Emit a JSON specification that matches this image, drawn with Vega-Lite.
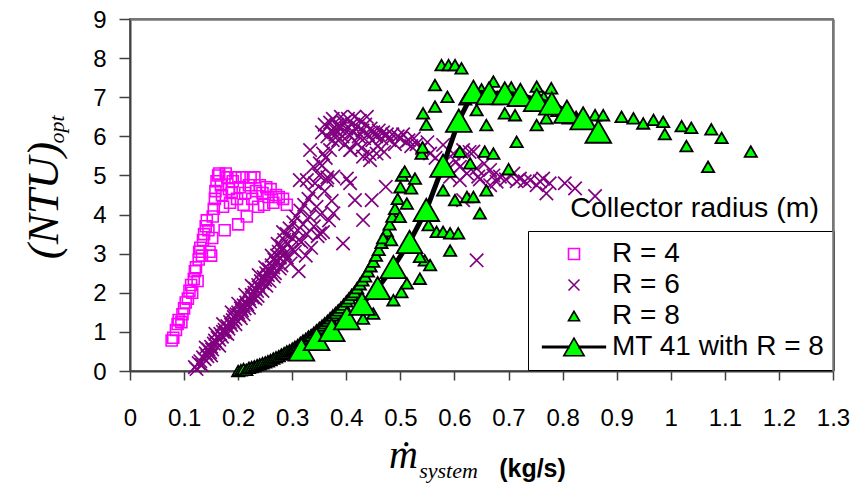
{
"$schema": "https://vega.github.io/schema/vega-lite/v6.json",
"width": 703, "height": 352,
"autosize": {"type": "none"},
"padding": {"left": 130, "top": 19, "right": 22, "bottom": 112},
"background": "white",
"config": {"font": "Liberation Sans", "view": {"stroke": "#777777", "strokeWidth": 2}, "axis": {"grid": false}},
"title": {"text": "Collector radius (m)", "anchor": "end", "frame": "group", "font": "Liberation Sans", "fontSize": 28.5, "fontWeight": "normal", "color": "black", "baseline": "alphabetic", "offset": 0, "dx": -14, "dy": 237},
"datasets": {
"r4": [
{"flow":0.077,"ntu":0.78,"series":"R = 4"},{"flow":0.080,"ntu":0.85,"series":"R = 4"},{"flow":0.085,"ntu":1.05,"series":"R = 4"},{"flow":0.088,"ntu":1.20,"series":"R = 4"},{"flow":0.090,"ntu":1.30,"series":"R = 4"},{"flow":0.095,"ntu":1.25,"series":"R = 4"},{"flow":0.097,"ntu":1.45,"series":"R = 4"},{"flow":0.100,"ntu":1.60,"series":"R = 4"},{"flow":0.103,"ntu":1.75,"series":"R = 4"},{"flow":0.107,"ntu":1.85,"series":"R = 4"},{"flow":0.110,"ntu":2.05,"series":"R = 4"},{"flow":0.113,"ntu":2.20,"series":"R = 4"},{"flow":0.115,"ntu":2.00,"series":"R = 4"},{"flow":0.118,"ntu":2.35,"series":"R = 4"},{"flow":0.120,"ntu":2.55,"series":"R = 4"},{"flow":0.122,"ntu":2.65,"series":"R = 4"},{"flow":0.125,"ntu":2.30,"series":"R = 4"},{"flow":0.127,"ntu":2.85,"series":"R = 4"},{"flow":0.128,"ntu":3.05,"series":"R = 4"},{"flow":0.130,"ntu":3.15,"series":"R = 4"},{"flow":0.133,"ntu":2.95,"series":"R = 4"},{"flow":0.135,"ntu":3.35,"series":"R = 4"},{"flow":0.137,"ntu":3.50,"series":"R = 4"},{"flow":0.140,"ntu":3.70,"series":"R = 4"},{"flow":0.142,"ntu":3.85,"series":"R = 4"},{"flow":0.145,"ntu":3.60,"series":"R = 4"},{"flow":0.147,"ntu":3.05,"series":"R = 4"},{"flow":0.150,"ntu":2.95,"series":"R = 4"},{"flow":0.152,"ntu":3.40,"series":"R = 4"},{"flow":0.153,"ntu":3.95,"series":"R = 4"},{"flow":0.155,"ntu":4.15,"series":"R = 4"},{"flow":0.157,"ntu":4.40,"series":"R = 4"},{"flow":0.158,"ntu":4.60,"series":"R = 4"},{"flow":0.160,"ntu":4.85,"series":"R = 4"},{"flow":0.163,"ntu":5.00,"series":"R = 4"},{"flow":0.165,"ntu":5.05,"series":"R = 4"},{"flow":0.168,"ntu":4.75,"series":"R = 4"},{"flow":0.170,"ntu":4.50,"series":"R = 4"},{"flow":0.172,"ntu":4.20,"series":"R = 4"},{"flow":0.175,"ntu":3.60,"series":"R = 4"},{"flow":0.177,"ntu":5.05,"series":"R = 4"},{"flow":0.180,"ntu":4.95,"series":"R = 4"},{"flow":0.183,"ntu":4.65,"series":"R = 4"},{"flow":0.185,"ntu":4.30,"series":"R = 4"},{"flow":0.188,"ntu":4.55,"series":"R = 4"},{"flow":0.190,"ntu":4.85,"series":"R = 4"},{"flow":0.195,"ntu":4.95,"series":"R = 4"},{"flow":0.198,"ntu":4.40,"series":"R = 4"},{"flow":0.200,"ntu":3.75,"series":"R = 4"},{"flow":0.203,"ntu":4.70,"series":"R = 4"},{"flow":0.207,"ntu":4.95,"series":"R = 4"},{"flow":0.210,"ntu":4.25,"series":"R = 4"},{"flow":0.213,"ntu":4.55,"series":"R = 4"},{"flow":0.216,"ntu":3.95,"series":"R = 4"},{"flow":0.220,"ntu":4.75,"series":"R = 4"},{"flow":0.223,"ntu":4.95,"series":"R = 4"},{"flow":0.226,"ntu":4.40,"series":"R = 4"},{"flow":0.230,"ntu":4.95,"series":"R = 4"},{"flow":0.233,"ntu":4.60,"series":"R = 4"},{"flow":0.237,"ntu":4.20,"series":"R = 4"},{"flow":0.240,"ntu":4.75,"series":"R = 4"},{"flow":0.245,"ntu":4.55,"series":"R = 4"},{"flow":0.248,"ntu":4.25,"series":"R = 4"},{"flow":0.252,"ntu":4.70,"series":"R = 4"},{"flow":0.256,"ntu":4.45,"series":"R = 4"},{"flow":0.260,"ntu":4.65,"series":"R = 4"},{"flow":0.265,"ntu":4.30,"series":"R = 4"},{"flow":0.270,"ntu":4.50,"series":"R = 4"},{"flow":0.275,"ntu":4.45,"series":"R = 4"},{"flow":0.283,"ntu":4.40,"series":"R = 4"},{"flow":0.290,"ntu":4.25,"series":"R = 4"}
],
"r6": [
{"flow":0.120,"ntu":0.10,"series":"R = 6"},{"flow":0.123,"ntu":0.05,"series":"R = 6"},{"flow":0.127,"ntu":0.20,"series":"R = 6"},{"flow":0.130,"ntu":0.25,"series":"R = 6"},{"flow":0.133,"ntu":0.15,"series":"R = 6"},{"flow":0.135,"ntu":0.35,"series":"R = 6"},{"flow":0.138,"ntu":0.30,"series":"R = 6"},{"flow":0.140,"ntu":0.45,"series":"R = 6"},{"flow":0.143,"ntu":0.38,"series":"R = 6"},{"flow":0.145,"ntu":0.55,"series":"R = 6"},{"flow":0.148,"ntu":0.48,"series":"R = 6"},{"flow":0.150,"ntu":0.62,"series":"R = 6"},{"flow":0.152,"ntu":0.55,"series":"R = 6"},{"flow":0.155,"ntu":0.70,"series":"R = 6"},{"flow":0.157,"ntu":0.78,"series":"R = 6"},{"flow":0.160,"ntu":0.72,"series":"R = 6"},{"flow":0.162,"ntu":0.85,"series":"R = 6"},{"flow":0.165,"ntu":0.80,"series":"R = 6"},{"flow":0.167,"ntu":0.95,"series":"R = 6"},{"flow":0.170,"ntu":0.88,"series":"R = 6"},{"flow":0.172,"ntu":1.00,"series":"R = 6"},{"flow":0.175,"ntu":1.05,"series":"R = 6"},{"flow":0.177,"ntu":0.98,"series":"R = 6"},{"flow":0.180,"ntu":1.15,"series":"R = 6"},{"flow":0.182,"ntu":1.08,"series":"R = 6"},{"flow":0.185,"ntu":1.25,"series":"R = 6"},{"flow":0.187,"ntu":1.18,"series":"R = 6"},{"flow":0.190,"ntu":1.30,"series":"R = 6"},{"flow":0.192,"ntu":1.38,"series":"R = 6"},{"flow":0.195,"ntu":1.33,"series":"R = 6"},{"flow":0.197,"ntu":1.45,"series":"R = 6"},{"flow":0.200,"ntu":1.50,"series":"R = 6"},{"flow":0.202,"ntu":1.42,"series":"R = 6"},{"flow":0.205,"ntu":1.60,"series":"R = 6"},{"flow":0.207,"ntu":1.55,"series":"R = 6"},{"flow":0.210,"ntu":1.68,"series":"R = 6"},{"flow":0.212,"ntu":1.60,"series":"R = 6"},{"flow":0.215,"ntu":1.75,"series":"R = 6"},{"flow":0.217,"ntu":1.70,"series":"R = 6"},{"flow":0.220,"ntu":1.85,"series":"R = 6"},{"flow":0.222,"ntu":1.78,"series":"R = 6"},{"flow":0.225,"ntu":1.95,"series":"R = 6"},{"flow":0.227,"ntu":1.88,"series":"R = 6"},{"flow":0.230,"ntu":2.00,"series":"R = 6"},{"flow":0.232,"ntu":2.10,"series":"R = 6"},{"flow":0.235,"ntu":2.05,"series":"R = 6"},{"flow":0.237,"ntu":2.20,"series":"R = 6"},{"flow":0.240,"ntu":2.12,"series":"R = 6"},{"flow":0.242,"ntu":2.30,"series":"R = 6"},{"flow":0.245,"ntu":2.25,"series":"R = 6"},{"flow":0.247,"ntu":2.40,"series":"R = 6"},{"flow":0.250,"ntu":2.33,"series":"R = 6"},{"flow":0.252,"ntu":2.50,"series":"R = 6"},{"flow":0.255,"ntu":2.45,"series":"R = 6"},{"flow":0.257,"ntu":2.60,"series":"R = 6"},{"flow":0.260,"ntu":2.52,"series":"R = 6"},{"flow":0.262,"ntu":2.70,"series":"R = 6"},{"flow":0.265,"ntu":2.65,"series":"R = 6"},{"flow":0.267,"ntu":2.85,"series":"R = 6"},{"flow":0.270,"ntu":2.78,"series":"R = 6"},{"flow":0.272,"ntu":2.95,"series":"R = 6"},{"flow":0.275,"ntu":3.05,"series":"R = 6"},{"flow":0.277,"ntu":2.90,"series":"R = 6"},{"flow":0.280,"ntu":3.20,"series":"R = 6"},{"flow":0.282,"ntu":3.10,"series":"R = 6"},{"flow":0.285,"ntu":3.35,"series":"R = 6"},{"flow":0.287,"ntu":3.00,"series":"R = 6"},{"flow":0.290,"ntu":3.50,"series":"R = 6"},{"flow":0.292,"ntu":3.25,"series":"R = 6"},{"flow":0.295,"ntu":3.65,"series":"R = 6"},{"flow":0.297,"ntu":2.75,"series":"R = 6"},{"flow":0.300,"ntu":3.40,"series":"R = 6"},{"flow":0.302,"ntu":3.80,"series":"R = 6"},{"flow":0.305,"ntu":3.05,"series":"R = 6"},{"flow":0.307,"ntu":3.95,"series":"R = 6"},{"flow":0.310,"ntu":3.60,"series":"R = 6"},{"flow":0.312,"ntu":2.55,"series":"R = 6"},{"flow":0.315,"ntu":4.10,"series":"R = 6"},{"flow":0.317,"ntu":3.30,"series":"R = 6"},{"flow":0.320,"ntu":3.75,"series":"R = 6"},{"flow":0.322,"ntu":4.25,"series":"R = 6"},{"flow":0.325,"ntu":2.95,"series":"R = 6"},{"flow":0.327,"ntu":3.50,"series":"R = 6"},{"flow":0.330,"ntu":4.40,"series":"R = 6"},{"flow":0.332,"ntu":3.95,"series":"R = 6"},{"flow":0.335,"ntu":3.15,"series":"R = 6"},{"flow":0.337,"ntu":4.55,"series":"R = 6"},{"flow":0.340,"ntu":3.70,"series":"R = 6"},{"flow":0.342,"ntu":4.80,"series":"R = 6"},{"flow":0.345,"ntu":4.20,"series":"R = 6"},{"flow":0.347,"ntu":3.45,"series":"R = 6"},{"flow":0.350,"ntu":5.00,"series":"R = 6"},{"flow":0.352,"ntu":4.00,"series":"R = 6"},{"flow":0.355,"ntu":5.25,"series":"R = 6"},{"flow":0.357,"ntu":3.55,"series":"R = 6"},{"flow":0.360,"ntu":4.60,"series":"R = 6"},{"flow":0.362,"ntu":5.45,"series":"R = 6"},{"flow":0.365,"ntu":4.95,"series":"R = 6"},{"flow":0.368,"ntu":3.85,"series":"R = 6"},{"flow":0.370,"ntu":5.65,"series":"R = 6"},{"flow":0.373,"ntu":4.35,"series":"R = 6"},{"flow":0.375,"ntu":5.90,"series":"R = 6"},{"flow":0.380,"ntu":6.15,"series":"R = 6"},{"flow":0.385,"ntu":6.25,"series":"R = 6"},
{"flow":0.232,"ntu":1.85,"series":"R = 6"},{"flow":0.245,"ntu":2.05,"series":"R = 6"},{"flow":0.258,"ntu":2.30,"series":"R = 6"},{"flow":0.268,"ntu":2.50,"series":"R = 6"},{"flow":0.280,"ntu":2.70,"series":"R = 6"},{"flow":0.290,"ntu":2.90,"series":"R = 6"},{"flow":0.210,"ntu":1.45,"series":"R = 6"},{"flow":0.195,"ntu":1.20,"series":"R = 6"},{"flow":0.180,"ntu":0.95,"series":"R = 6"},{"flow":0.165,"ntu":0.65,"series":"R = 6"},{"flow":0.150,"ntu":0.40,"series":"R = 6"},
{"flow":0.140,"ntu":0.60,"series":"R = 6"},{"flow":0.158,"ntu":0.95,"series":"R = 6"},{"flow":0.172,"ntu":1.20,"series":"R = 6"},{"flow":0.188,"ntu":1.50,"series":"R = 6"},{"flow":0.200,"ntu":1.72,"series":"R = 6"},{"flow":0.213,"ntu":1.95,"series":"R = 6"},{"flow":0.225,"ntu":2.18,"series":"R = 6"},{"flow":0.238,"ntu":2.45,"series":"R = 6"},{"flow":0.250,"ntu":2.65,"series":"R = 6"},{"flow":0.262,"ntu":2.95,"series":"R = 6"},{"flow":0.273,"ntu":3.25,"series":"R = 6"},{"flow":0.283,"ntu":3.55,"series":"R = 6"},{"flow":0.205,"ntu":1.35,"series":"R = 6"},{"flow":0.220,"ntu":1.62,"series":"R = 6"},{"flow":0.236,"ntu":1.92,"series":"R = 6"},{"flow":0.252,"ntu":2.18,"series":"R = 6"},{"flow":0.266,"ntu":2.42,"series":"R = 6"},{"flow":0.277,"ntu":2.62,"series":"R = 6"},{"flow":0.300,"ntu":3.10,"series":"R = 6"},{"flow":0.312,"ntu":3.35,"series":"R = 6"},
{"flow":0.314,"ntu":4.88,"series":"R = 6"},{"flow":0.327,"ntu":4.88,"series":"R = 6"},{"flow":0.333,"ntu":5.65,"series":"R = 6"},{"flow":0.339,"ntu":5.22,"series":"R = 6"},{"flow":0.351,"ntu":5.31,"series":"R = 6"},{"flow":0.357,"ntu":5.56,"series":"R = 6"},{"flow":0.364,"ntu":4.88,"series":"R = 6"},{"flow":0.376,"ntu":4.97,"series":"R = 6"},{"flow":0.376,"ntu":4.03,"series":"R = 6"},{"flow":0.351,"ntu":3.52,"series":"R = 6"},{"flow":0.394,"ntu":3.26,"series":"R = 6"},{"flow":0.401,"ntu":4.92,"series":"R = 6"},{"flow":0.407,"ntu":5.65,"series":"R = 6"},{"flow":0.407,"ntu":4.80,"series":"R = 6"},{"flow":0.416,"ntu":4.37,"series":"R = 6"},{"flow":0.431,"ntu":5.48,"series":"R = 6"},{"flow":0.431,"ntu":3.86,"series":"R = 6"},{"flow":0.444,"ntu":5.39,"series":"R = 6"},{"flow":0.447,"ntu":4.37,"series":"R = 6"},{"flow":0.456,"ntu":5.56,"series":"R = 6"},{"flow":0.473,"ntu":4.71,"series":"R = 6"},
{"flow":0.355,"ntu":6.10,"series":"R = 6"},{"flow":0.360,"ntu":6.30,"series":"R = 6"},{"flow":0.365,"ntu":6.00,"series":"R = 6"},{"flow":0.370,"ntu":6.35,"series":"R = 6"},{"flow":0.372,"ntu":6.15,"series":"R = 6"},{"flow":0.375,"ntu":6.45,"series":"R = 6"},{"flow":0.380,"ntu":6.05,"series":"R = 6"},{"flow":0.383,"ntu":6.30,"series":"R = 6"},{"flow":0.385,"ntu":5.90,"series":"R = 6"},{"flow":0.388,"ntu":6.20,"series":"R = 6"},{"flow":0.390,"ntu":6.50,"series":"R = 6"},{"flow":0.393,"ntu":6.00,"series":"R = 6"},{"flow":0.395,"ntu":6.35,"series":"R = 6"},{"flow":0.398,"ntu":5.80,"series":"R = 6"},{"flow":0.400,"ntu":6.20,"series":"R = 6"},{"flow":0.403,"ntu":6.45,"series":"R = 6"},{"flow":0.405,"ntu":6.05,"series":"R = 6"},{"flow":0.408,"ntu":5.65,"series":"R = 6"},{"flow":0.410,"ntu":6.30,"series":"R = 6"},{"flow":0.413,"ntu":6.10,"series":"R = 6"},{"flow":0.415,"ntu":6.50,"series":"R = 6"},{"flow":0.418,"ntu":5.85,"series":"R = 6"},{"flow":0.420,"ntu":6.25,"series":"R = 6"},{"flow":0.423,"ntu":6.00,"series":"R = 6"},{"flow":0.425,"ntu":6.40,"series":"R = 6"},{"flow":0.428,"ntu":5.70,"series":"R = 6"},{"flow":0.430,"ntu":6.15,"series":"R = 6"},{"flow":0.433,"ntu":5.95,"series":"R = 6"},{"flow":0.435,"ntu":6.30,"series":"R = 6"},{"flow":0.438,"ntu":6.50,"series":"R = 6"},{"flow":0.440,"ntu":6.05,"series":"R = 6"},{"flow":0.443,"ntu":5.55,"series":"R = 6"},{"flow":0.445,"ntu":6.20,"series":"R = 6"},{"flow":0.448,"ntu":5.90,"series":"R = 6"},{"flow":0.450,"ntu":6.10,"series":"R = 6"},{"flow":0.455,"ntu":6.00,"series":"R = 6"},{"flow":0.458,"ntu":5.75,"series":"R = 6"},{"flow":0.460,"ntu":6.15,"series":"R = 6"},{"flow":0.465,"ntu":5.95,"series":"R = 6"},{"flow":0.468,"ntu":6.10,"series":"R = 6"},{"flow":0.470,"ntu":5.60,"series":"R = 6"},{"flow":0.475,"ntu":6.05,"series":"R = 6"},{"flow":0.480,"ntu":5.90,"series":"R = 6"},{"flow":0.485,"ntu":6.05,"series":"R = 6"},{"flow":0.490,"ntu":5.80,"series":"R = 6"},{"flow":0.495,"ntu":6.00,"series":"R = 6"},{"flow":0.500,"ntu":5.95,"series":"R = 6"},{"flow":0.505,"ntu":6.05,"series":"R = 6"},{"flow":0.510,"ntu":5.85,"series":"R = 6"},{"flow":0.515,"ntu":5.90,"series":"R = 6"},{"flow":0.520,"ntu":5.75,"series":"R = 6"},{"flow":0.525,"ntu":5.95,"series":"R = 6"},{"flow":0.530,"ntu":5.80,"series":"R = 6"},{"flow":0.540,"ntu":5.70,"series":"R = 6"},{"flow":0.550,"ntu":5.85,"series":"R = 6"},
{"flow":0.555,"ntu":5.56,"series":"R = 6"},{"flow":0.565,"ntu":5.45,"series":"R = 6"},{"flow":0.579,"ntu":5.78,"series":"R = 6"},{"flow":0.586,"ntu":5.22,"series":"R = 6"},{"flow":0.592,"ntu":4.97,"series":"R = 6"},{"flow":0.598,"ntu":5.56,"series":"R = 6"},{"flow":0.603,"ntu":5.35,"series":"R = 6"},{"flow":0.610,"ntu":5.22,"series":"R = 6"},{"flow":0.610,"ntu":4.88,"series":"R = 6"},{"flow":0.616,"ntu":5.65,"series":"R = 6"},{"flow":0.616,"ntu":4.37,"series":"R = 6"},{"flow":0.623,"ntu":5.05,"series":"R = 6"},{"flow":0.628,"ntu":5.60,"series":"R = 6"},{"flow":0.635,"ntu":5.61,"series":"R = 6"},{"flow":0.641,"ntu":5.18,"series":"R = 6"},{"flow":0.644,"ntu":4.97,"series":"R = 6"},{"flow":0.647,"ntu":4.90,"series":"R = 6"},{"flow":0.655,"ntu":5.30,"series":"R = 6"},{"flow":0.666,"ntu":5.14,"series":"R = 6"},{"flow":0.666,"ntu":4.75,"series":"R = 6"},{"flow":0.672,"ntu":5.00,"series":"R = 6"},{"flow":0.678,"ntu":4.84,"series":"R = 6"},{"flow":0.684,"ntu":4.97,"series":"R = 6"},{"flow":0.695,"ntu":4.90,"series":"R = 6"},{"flow":0.709,"ntu":5.05,"series":"R = 6"},{"flow":0.715,"ntu":4.85,"series":"R = 6"},{"flow":0.721,"ntu":4.92,"series":"R = 6"},{"flow":0.730,"ntu":4.85,"series":"R = 6"},{"flow":0.740,"ntu":4.88,"series":"R = 6"},{"flow":0.752,"ntu":4.75,"series":"R = 6"},{"flow":0.758,"ntu":4.85,"series":"R = 6"},{"flow":0.764,"ntu":4.92,"series":"R = 6"},{"flow":0.770,"ntu":4.54,"series":"R = 6"},{"flow":0.776,"ntu":4.80,"series":"R = 6"},{"flow":0.804,"ntu":4.80,"series":"R = 6"},{"flow":0.823,"ntu":4.67,"series":"R = 6"},{"flow":0.860,"ntu":4.47,"series":"R = 6"},{"flow":0.641,"ntu":2.83,"series":"R = 6"}
],
"r8": [
{"flow":0.200,"ntu":0.00,"series":"R = 8"},{"flow":0.205,"ntu":0.02,"series":"R = 8"},{"flow":0.210,"ntu":0.05,"series":"R = 8"},{"flow":0.215,"ntu":0.03,"series":"R = 8"},{"flow":0.220,"ntu":0.08,"series":"R = 8"},{"flow":0.225,"ntu":0.10,"series":"R = 8"},{"flow":0.230,"ntu":0.12,"series":"R = 8"},{"flow":0.235,"ntu":0.15,"series":"R = 8"},{"flow":0.240,"ntu":0.17,"series":"R = 8"},{"flow":0.245,"ntu":0.20,"series":"R = 8"},{"flow":0.250,"ntu":0.22,"series":"R = 8"},{"flow":0.255,"ntu":0.25,"series":"R = 8"},{"flow":0.260,"ntu":0.28,"series":"R = 8"},{"flow":0.265,"ntu":0.32,"series":"R = 8"},{"flow":0.270,"ntu":0.35,"series":"R = 8"},{"flow":0.275,"ntu":0.38,"series":"R = 8"},{"flow":0.280,"ntu":0.42,"series":"R = 8"},{"flow":0.285,"ntu":0.46,"series":"R = 8"},{"flow":0.290,"ntu":0.50,"series":"R = 8"},{"flow":0.295,"ntu":0.53,"series":"R = 8"},{"flow":0.300,"ntu":0.57,"series":"R = 8"},{"flow":0.305,"ntu":0.62,"series":"R = 8"},{"flow":0.310,"ntu":0.66,"series":"R = 8"},{"flow":0.315,"ntu":0.72,"series":"R = 8"},{"flow":0.320,"ntu":0.78,"series":"R = 8"},{"flow":0.325,"ntu":0.82,"series":"R = 8"},{"flow":0.330,"ntu":0.88,"series":"R = 8"},{"flow":0.335,"ntu":0.92,"series":"R = 8"},{"flow":0.340,"ntu":0.98,"series":"R = 8"},{"flow":0.345,"ntu":1.04,"series":"R = 8"},{"flow":0.350,"ntu":1.10,"series":"R = 8"},{"flow":0.355,"ntu":1.16,"series":"R = 8"},{"flow":0.360,"ntu":1.22,"series":"R = 8"},{"flow":0.365,"ntu":1.28,"series":"R = 8"},{"flow":0.370,"ntu":1.35,"series":"R = 8"},{"flow":0.375,"ntu":1.42,"series":"R = 8"},{"flow":0.380,"ntu":1.48,"series":"R = 8"},{"flow":0.385,"ntu":1.55,"series":"R = 8"},{"flow":0.390,"ntu":1.62,"series":"R = 8"},{"flow":0.395,"ntu":1.70,"series":"R = 8"},{"flow":0.400,"ntu":1.78,"series":"R = 8"},{"flow":0.405,"ntu":1.86,"series":"R = 8"},{"flow":0.410,"ntu":1.95,"series":"R = 8"},{"flow":0.415,"ntu":2.02,"series":"R = 8"},{"flow":0.420,"ntu":2.12,"series":"R = 8"},{"flow":0.425,"ntu":2.22,"series":"R = 8"},{"flow":0.430,"ntu":2.32,"series":"R = 8"},{"flow":0.435,"ntu":2.42,"series":"R = 8"},{"flow":0.440,"ntu":2.55,"series":"R = 8"},{"flow":0.445,"ntu":2.68,"series":"R = 8"},{"flow":0.450,"ntu":2.80,"series":"R = 8"},{"flow":0.455,"ntu":2.95,"series":"R = 8"},{"flow":0.460,"ntu":3.10,"series":"R = 8"},{"flow":0.465,"ntu":3.28,"series":"R = 8"},{"flow":0.470,"ntu":3.42,"series":"R = 8"},{"flow":0.475,"ntu":3.58,"series":"R = 8"},{"flow":0.480,"ntu":3.75,"series":"R = 8"},{"flow":0.485,"ntu":3.95,"series":"R = 8"},{"flow":0.490,"ntu":4.15,"series":"R = 8"},{"flow":0.495,"ntu":4.40,"series":"R = 8"},{"flow":0.500,"ntu":4.70,"series":"R = 8"},{"flow":0.503,"ntu":5.00,"series":"R = 8"},{"flow":0.508,"ntu":5.10,"series":"R = 8"},
{"flow":0.431,"ntu":1.34,"series":"R = 8"},{"flow":0.450,"ntu":1.47,"series":"R = 8"},{"flow":0.487,"ntu":1.81,"series":"R = 8"},{"flow":0.502,"ntu":2.02,"series":"R = 8"},{"flow":0.512,"ntu":2.24,"series":"R = 8"},{"flow":0.536,"ntu":2.36,"series":"R = 8"},{"flow":0.545,"ntu":2.83,"series":"R = 8"},{"flow":0.555,"ntu":2.71,"series":"R = 8"},{"flow":0.536,"ntu":2.92,"series":"R = 8"},{"flow":0.592,"ntu":3.08,"series":"R = 8"},{"flow":0.468,"ntu":3.40,"series":"R = 8"},{"flow":0.483,"ntu":3.35,"series":"R = 8"},
{"flow":0.499,"ntu":3.94,"series":"R = 8"},{"flow":0.512,"ntu":4.28,"series":"R = 8"},{"flow":0.520,"ntu":4.67,"series":"R = 8"},{"flow":0.527,"ntu":4.92,"series":"R = 8"},{"flow":0.539,"ntu":5.56,"series":"R = 8"},{"flow":0.541,"ntu":5.72,"series":"R = 8"},{"flow":0.542,"ntu":6.59,"series":"R = 8"},{"flow":0.548,"ntu":6.30,"series":"R = 8"},{"flow":0.564,"ntu":6.76,"series":"R = 8"},{"flow":0.564,"ntu":7.31,"series":"R = 8"},{"flow":0.587,"ntu":7.01,"series":"R = 8"},{"flow":0.576,"ntu":7.82,"series":"R = 8"},{"flow":0.589,"ntu":7.82,"series":"R = 8"},{"flow":0.601,"ntu":7.82,"series":"R = 8"},{"flow":0.613,"ntu":7.74,"series":"R = 8"},
{"flow":0.552,"ntu":3.73,"series":"R = 8"},{"flow":0.567,"ntu":3.56,"series":"R = 8"},{"flow":0.579,"ntu":3.56,"series":"R = 8"},{"flow":0.592,"ntu":3.52,"series":"R = 8"},{"flow":0.607,"ntu":3.52,"series":"R = 8"},{"flow":0.555,"ntu":4.07,"series":"R = 8"},{"flow":0.579,"ntu":4.62,"series":"R = 8"},{"flow":0.601,"ntu":4.37,"series":"R = 8"},{"flow":0.623,"ntu":4.45,"series":"R = 8"},{"flow":0.635,"ntu":4.45,"series":"R = 8"},{"flow":0.659,"ntu":4.62,"series":"R = 8"},{"flow":0.647,"ntu":4.03,"series":"R = 8"},{"flow":0.610,"ntu":5.61,"series":"R = 8"},{"flow":0.629,"ntu":5.31,"series":"R = 8"},{"flow":0.656,"ntu":5.61,"series":"R = 8"},{"flow":0.672,"ntu":5.56,"series":"R = 8"},{"flow":0.700,"ntu":5.16,"series":"R = 8"},{"flow":0.715,"ntu":5.86,"series":"R = 8"},{"flow":0.659,"ntu":6.29,"series":"R = 8"},{"flow":0.641,"ntu":6.67,"series":"R = 8"},{"flow":0.672,"ntu":7.40,"series":"R = 8"},{"flow":0.693,"ntu":6.59,"series":"R = 8"},{"flow":0.712,"ntu":6.54,"series":"R = 8"},{"flow":0.752,"ntu":7.27,"series":"R = 8"},{"flow":0.752,"ntu":6.29,"series":"R = 8"},{"flow":0.770,"ntu":6.46,"series":"R = 8"},{"flow":0.779,"ntu":7.23,"series":"R = 8"},{"flow":0.811,"ntu":6.46,"series":"R = 8"},{"flow":0.841,"ntu":6.46,"series":"R = 8"},{"flow":0.860,"ntu":6.54,"series":"R = 8"},{"flow":0.875,"ntu":6.54,"series":"R = 8"},{"flow":0.909,"ntu":6.50,"series":"R = 8"},{"flow":0.931,"ntu":6.46,"series":"R = 8"},{"flow":0.949,"ntu":6.33,"series":"R = 8"},{"flow":0.968,"ntu":6.42,"series":"R = 8"},{"flow":0.986,"ntu":6.37,"series":"R = 8"},{"flow":0.989,"ntu":6.06,"series":"R = 8"},{"flow":1.020,"ntu":6.26,"series":"R = 8"},{"flow":1.038,"ntu":6.22,"series":"R = 8"},{"flow":1.029,"ntu":5.75,"series":"R = 8"},{"flow":1.075,"ntu":6.18,"series":"R = 8"},{"flow":1.094,"ntu":5.96,"series":"R = 8"},{"flow":1.069,"ntu":5.22,"series":"R = 8"},{"flow":1.148,"ntu":5.61,"series":"R = 8"},
{"flow":0.620,"ntu":6.95,"series":"R = 8"},{"flow":0.650,"ntu":7.20,"series":"R = 8"},{"flow":0.680,"ntu":7.00,"series":"R = 8"},{"flow":0.705,"ntu":7.25,"series":"R = 8"},{"flow":0.730,"ntu":6.95,"series":"R = 8"},{"flow":0.745,"ntu":6.80,"series":"R = 8"},{"flow":0.765,"ntu":7.00,"series":"R = 8"},{"flow":0.790,"ntu":6.65,"series":"R = 8"},{"flow":0.800,"ntu":6.55,"series":"R = 8"},{"flow":0.825,"ntu":6.50,"series":"R = 8"},{"flow":0.845,"ntu":6.35,"series":"R = 8"}
],
"mt": [
{"flow":0.317,"ntu":0.55,"series":"MT 41 with R = 8"},{"flow":0.345,"ntu":0.82,"series":"MT 41 with R = 8"},{"flow":0.373,"ntu":1.05,"series":"MT 41 with R = 8"},{"flow":0.401,"ntu":1.35,"series":"MT 41 with R = 8"},{"flow":0.429,"ntu":1.72,"series":"MT 41 with R = 8"},{"flow":0.458,"ntu":2.12,"series":"MT 41 with R = 8"},{"flow":0.487,"ntu":2.66,"series":"MT 41 with R = 8"},{"flow":0.517,"ntu":3.30,"series":"MT 41 with R = 8"},{"flow":0.548,"ntu":4.12,"series":"MT 41 with R = 8"},{"flow":0.579,"ntu":5.25,"series":"MT 41 with R = 8"},{"flow":0.608,"ntu":6.40,"series":"MT 41 with R = 8"},{"flow":0.635,"ntu":7.14,"series":"MT 41 with R = 8"},{"flow":0.664,"ntu":7.10,"series":"MT 41 with R = 8"},{"flow":0.693,"ntu":7.10,"series":"MT 41 with R = 8"},{"flow":0.722,"ntu":7.06,"series":"MT 41 with R = 8"},{"flow":0.752,"ntu":6.93,"series":"MT 41 with R = 8"},{"flow":0.780,"ntu":6.84,"series":"MT 41 with R = 8"},{"flow":0.808,"ntu":6.63,"series":"MT 41 with R = 8"},{"flow":0.838,"ntu":6.46,"series":"MT 41 with R = 8"},{"flow":0.866,"ntu":6.12,"series":"MT 41 with R = 8"}
]
},
"resolve": {"axis": {"x": "independent", "y": "independent"}},
"layer": [
{
"data": {"name": "r4"},
"mark": {"type": "point", "filled": true, "opacity": 1, "size": 121, "strokeWidth": 1.6},
"encoding": {
"x": {"field": "flow", "type": "quantitative", "scale": {"domain": [0, 1.3], "nice": false, "zero": false},
"axis": {"orient": "bottom", "values": [0,0.1,0.2,0.3,0.4,0.5,0.6,0.7,0.8,0.9,1,1.1,1.2,1.3], "format": "~g", "labelFont": "Liberation Sans", "labelFontSize": 24, "labelColor": "black", "labelPadding": 26, "labelFlush": false, "labelOverlap": false, "tickSize": 9, "tickColor": "#404040", "tickWidth": 1.5, "domainColor": "#404040", "domainWidth": 2, "grid": false,
"title": "ṁ", "titleFont": "Liberation Serif", "titleFontStyle": "italic", "titleFontWeight": "normal", "titleFontSize": 40, "titleColor": "black", "titleAlign": "center", "titleBaseline": "alphabetic", "titleX": 273, "titleY": 96}},
"y": {"field": "ntu", "type": "quantitative", "scale": {"domain": [0, 9], "nice": false, "zero": false},
"axis": {"orient": "left", "values": [0,1,2,3,4,5,6,7,8,9], "format": "d", "labelFont": "Liberation Sans", "labelFontSize": 24, "labelColor": "black", "labelPadding": 13, "labelOffset": 1, "labelFlush": false, "labelOverlap": false, "tickSize": 11, "tickColor": "#404040", "tickWidth": 1.5, "domainColor": "#404040", "domainWidth": 2, "grid": false,
"title": "(NTU)", "titleFont": "Liberation Serif", "titleFontStyle": "italic", "titleFontWeight": "normal", "titleFontSize": 45, "titleColor": "black", "titleAngle": 270, "titleAlign": "center", "titleBaseline": "alphabetic", "titleX": -73, "titleY": 181}},
"shape": {"field": "series", "type": "nominal",
"scale": {"domain": ["R = 4", "R = 6", "R = 8", "MT 41 with R = 8"], "range": ["square", "M-1,-1L1,1M-1,1L1,-1", "triangle-up", "M-5.7,-0.14L-0.92,-0.14L-0.92,0.14L-5.7,0.14Z M-5.7,-0.14L-5.7,0.14L-0.92,0.14L-0.92,-0.14Z M0.92,-0.14L5.7,-0.14L5.7,0.14L0.92,0.14Z M0.92,-0.14L0.92,0.14L5.7,0.14L5.7,-0.14Z M0,-1.6L1.85,1.6L-1.85,1.6Z"]},
"legend": {"orient": "none", "legendX": 398, "legendY": 212, "direction": "vertical", "title": null, "fillColor": "white", "strokeColor": "black", "padding": 9, "rowPadding": 3, "symbolSize": 121, "symbolStrokeWidth": 1.6, "symbolOffset": 23, "labelOffset": 24, "labelFont": "Liberation Sans", "labelFontSize": 28, "labelColor": "black", "labelLimit": 400}},
"fill": {"field": "series", "type": "nominal", "scale": {"domain": ["R = 4", "R = 6", "R = 8", "MT 41 with R = 8"], "range": ["transparent", "transparent", "#00FF00", "#00FF00"]}},
"stroke": {"field": "series", "type": "nominal", "scale": {"domain": ["R = 4", "R = 6", "R = 8", "MT 41 with R = 8"], "range": ["#FF00FF", "#800080", "black", "black"]}}
}
},
{
"data": {"name": "r6"},
"mark": {"type": "point", "filled": true, "opacity": 1, "size": 180, "strokeWidth": 1.7},
"encoding": {
"x": {"field": "flow", "type": "quantitative", "scale": {"domain": [0, 1.3], "nice": false, "zero": false},
"axis": {"orient": "bottom", "labels": false, "ticks": false, "domain": false, "grid": false, "title": "system", "titleFont": "Liberation Serif", "titleFontStyle": "italic", "titleFontWeight": "normal", "titleFontSize": 22, "titleColor": "black", "titleAlign": "center", "titleBaseline": "alphabetic", "titleX": 318, "titleY": 106}},
"y": {"field": "ntu", "type": "quantitative", "scale": {"domain": [0, 9], "nice": false, "zero": false},
"axis": {"orient": "left", "labels": false, "ticks": false, "domain": false, "grid": false, "title": "opt", "titleFont": "Liberation Serif", "titleFontStyle": "italic", "titleFontWeight": "normal", "titleFontSize": 22, "titleColor": "black", "titleAngle": 270, "titleAlign": "center", "titleBaseline": "alphabetic", "titleX": -67, "titleY": 110}},
"shape": {"field": "series", "type": "nominal"},
"fill": {"field": "series", "type": "nominal"},
"stroke": {"field": "series", "type": "nominal"}
}
},
{
"data": {"name": "r8"},
"mark": {"type": "point", "filled": true, "opacity": 1, "size": 150, "strokeWidth": 1.8},
"encoding": {
"x": {"field": "flow", "type": "quantitative", "scale": {"domain": [0, 1.3], "nice": false, "zero": false},
"axis": {"orient": "bottom", "labels": false, "ticks": false, "domain": false, "grid": false, "title": "(kg/s)", "titleFont": "Liberation Sans", "titleFontWeight": "bold", "titleFontSize": 25, "titleColor": "black", "titleAlign": "center", "titleBaseline": "alphabetic", "titleX": 402, "titleY": 105}},
"y": {"field": "ntu", "type": "quantitative", "scale": {"domain": [0, 9], "nice": false, "zero": false}, "axis": null},
"shape": {"field": "series", "type": "nominal"},
"fill": {"field": "series", "type": "nominal"},
"stroke": {"field": "series", "type": "nominal"}
}
},
{
"data": {"name": "mt"},
"mark": {"type": "line", "color": "black", "strokeWidth": 5},
"encoding": {
"x": {"field": "flow", "type": "quantitative", "scale": {"domain": [0, 1.3], "nice": false, "zero": false}, "axis": null},
"y": {"field": "ntu", "type": "quantitative", "scale": {"domain": [0, 9], "nice": false, "zero": false}, "axis": null}
}
},
{
"data": {"name": "mt"},
"mark": {"type": "point", "shape": "triangle-up", "filled": true, "opacity": 1, "size": 660, "fill": "#00FF00", "stroke": "black", "strokeWidth": 1.8},
"encoding": {
"x": {"field": "flow", "type": "quantitative", "scale": {"domain": [0, 1.3], "nice": false, "zero": false}, "axis": null},
"y": {"field": "ntu", "type": "quantitative", "scale": {"domain": [0, 9], "nice": false, "zero": false}, "axis": null}
}
},
{
"data": {"name": "mt"},
"mark": {"type": "point", "opacity": 0},
"encoding": {
"x": {"field": "flow", "type": "quantitative", "scale": {"domain": [0, 1.3], "nice": false, "zero": false},
"axis": {"orient": "top", "labels": false, "ticks": false, "grid": false, "title": null, "domainColor": "#777777", "domainWidth": 2.5, "domainOpacity": 1, "zindex": 1}},
"y": {"field": "ntu", "type": "quantitative", "scale": {"domain": [0, 9], "nice": false, "zero": false},
"axis": {"orient": "right", "labels": false, "ticks": false, "grid": false, "title": null, "domainColor": "#777777", "domainWidth": 2.5, "domainOpacity": 1, "zindex": 1}}
}
}
]
}
